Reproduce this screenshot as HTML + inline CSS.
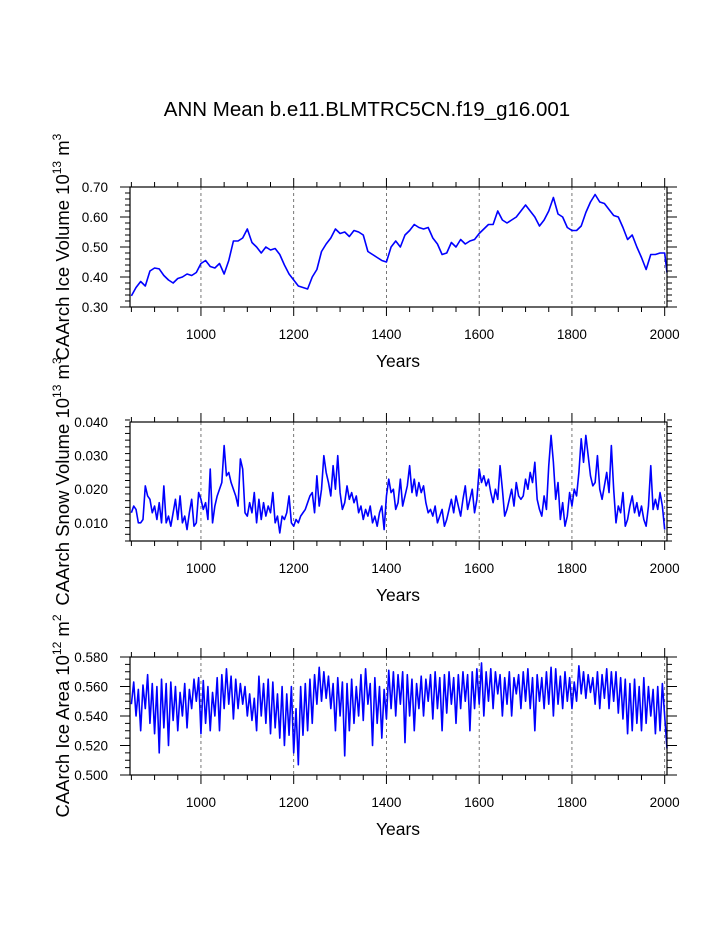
<!DOCTYPE html>
<html><head><meta charset="utf-8"><style>
html,body{margin:0;padding:0;background:#fff}
svg{display:block;font-family:"Liberation Sans",sans-serif}
</style></head><body>
<svg id="chart" width="723" height="935" viewBox="0 0 723 935">
<text x="367" y="116" font-size="20.5" text-anchor="middle">ANN Mean b.e11.BLMTRC5CN.f19_g16.001</text>
</svg>
<script>
const iceVolYears=[850,860,870,880,890,900,910,920,930,940,950,960,970,980,990,1000,1010,1020,1030,1040,1050,1060,1070,1080,1090,1100,1110,1120,1130,1140,1150,1160,1170,1180,1190,1200,1210,1220,1230,1240,1250,1260,1270,1280,1290,1300,1310,1320,1330,1340,1350,1360,1370,1380,1390,1400,1410,1420,1430,1440,1450,1460,1470,1480,1490,1500,1510,1520,1530,1540,1550,1560,1570,1580,1590,1600,1610,1620,1630,1640,1650,1660,1670,1680,1690,1700,1710,1720,1730,1740,1750,1760,1770,1780,1790,1800,1810,1820,1830,1840,1850,1860,1870,1880,1890,1900,1910,1920,1930,1940,1950,1960,1970,1980,1990,2000,2005];
const iceVolume=[0.337,0.365,0.385,0.37,0.42,0.43,0.427,0.405,0.39,0.38,0.395,0.40,0.41,0.405,0.415,0.445,0.455,0.435,0.43,0.445,0.41,0.455,0.52,0.52,0.53,0.56,0.515,0.50,0.48,0.50,0.49,0.495,0.475,0.44,0.41,0.39,0.37,0.365,0.36,0.40,0.425,0.485,0.51,0.53,0.56,0.545,0.55,0.535,0.555,0.55,0.54,0.485,0.475,0.465,0.455,0.45,0.50,0.52,0.50,0.54,0.555,0.575,0.565,0.56,0.565,0.53,0.51,0.475,0.48,0.515,0.50,0.525,0.51,0.52,0.525,0.545,0.56,0.575,0.575,0.62,0.59,0.58,0.59,0.60,0.62,0.64,0.62,0.60,0.57,0.59,0.62,0.665,0.61,0.60,0.565,0.555,0.555,0.57,0.615,0.65,0.675,0.65,0.645,0.625,0.605,0.60,0.565,0.525,0.54,0.50,0.465,0.425,0.475,0.475,0.48,0.48,0.415];
const snowStart=850, snowStep=5;
const snowVolume=[0.013,0.015,0.014,0.010,0.010,0.011,0.021,0.018,0.017,0.013,0.015,0.011,0.016,0.010,0.021,0.010,0.012,0.009,0.013,0.017,0.011,0.018,0.010,0.012,0.008,0.013,0.017,0.009,0.010,0.019,0.017,0.014,0.016,0.011,0.026,0.010,0.015,0.018,0.020,0.022,0.033,0.024,0.025,0.022,0.020,0.018,0.015,0.029,0.026,0.013,0.012,0.016,0.013,0.019,0.010,0.017,0.011,0.016,0.012,0.015,0.013,0.019,0.010,0.012,0.007,0.012,0.011,0.013,0.018,0.010,0.009,0.011,0.010,0.012,0.013,0.014,0.016,0.018,0.019,0.013,0.024,0.015,0.020,0.030,0.025,0.022,0.018,0.027,0.020,0.030,0.019,0.014,0.016,0.021,0.017,0.019,0.016,0.018,0.013,0.015,0.011,0.014,0.012,0.015,0.010,0.012,0.009,0.013,0.015,0.008,0.018,0.023,0.019,0.020,0.014,0.016,0.023,0.015,0.018,0.021,0.027,0.019,0.023,0.018,0.022,0.019,0.021,0.016,0.013,0.014,0.012,0.015,0.010,0.012,0.014,0.009,0.011,0.014,0.017,0.013,0.018,0.015,0.012,0.017,0.021,0.014,0.017,0.020,0.013,0.017,0.026,0.022,0.024,0.021,0.023,0.019,0.016,0.020,0.017,0.027,0.020,0.012,0.014,0.017,0.020,0.015,0.022,0.018,0.017,0.018,0.023,0.020,0.025,0.022,0.028,0.017,0.014,0.012,0.018,0.014,0.027,0.036,0.028,0.017,0.022,0.011,0.016,0.009,0.012,0.019,0.015,0.020,0.018,0.025,0.035,0.028,0.036,0.030,0.024,0.021,0.022,0.030,0.020,0.017,0.021,0.025,0.019,0.033,0.020,0.010,0.015,0.013,0.019,0.009,0.011,0.015,0.018,0.013,0.016,0.012,0.015,0.011,0.009,0.015,0.027,0.014,0.017,0.014,0.019,0.015,0.008];
const areaStart=850, areaStep=5;
const iceArea=[0.548,0.563,0.540,0.558,0.530,0.561,0.545,0.568,0.535,0.562,0.528,0.560,0.515,0.565,0.532,0.562,0.520,0.563,0.537,0.560,0.530,0.556,0.540,0.562,0.532,0.558,0.545,0.565,0.550,0.566,0.528,0.564,0.535,0.560,0.530,0.556,0.540,0.566,0.530,0.568,0.545,0.572,0.548,0.567,0.538,0.565,0.545,0.562,0.548,0.560,0.540,0.555,0.537,0.552,0.530,0.567,0.540,0.562,0.535,0.565,0.528,0.563,0.532,0.555,0.525,0.560,0.520,0.555,0.527,0.560,0.515,0.545,0.507,0.560,0.527,0.562,0.530,0.565,0.535,0.568,0.548,0.573,0.550,0.570,0.552,0.567,0.545,0.562,0.530,0.566,0.540,0.563,0.513,0.562,0.530,0.565,0.535,0.560,0.540,0.568,0.537,0.572,0.548,0.562,0.520,0.566,0.535,0.560,0.525,0.558,0.538,0.571,0.545,0.570,0.540,0.568,0.548,0.570,0.522,0.568,0.540,0.565,0.530,0.562,0.545,0.567,0.540,0.565,0.550,0.568,0.538,0.570,0.545,0.566,0.530,0.568,0.542,0.570,0.548,0.566,0.535,0.568,0.545,0.570,0.550,0.568,0.530,0.570,0.545,0.572,0.548,0.576,0.540,0.570,0.550,0.572,0.545,0.570,0.555,0.568,0.540,0.566,0.548,0.570,0.540,0.566,0.555,0.568,0.545,0.570,0.550,0.572,0.545,0.566,0.530,0.568,0.550,0.566,0.545,0.570,0.548,0.573,0.540,0.572,0.548,0.567,0.545,0.570,0.550,0.566,0.545,0.563,0.550,0.574,0.555,0.570,0.552,0.568,0.556,0.566,0.548,0.570,0.545,0.568,0.552,0.572,0.545,0.570,0.550,0.570,0.542,0.566,0.538,0.565,0.528,0.562,0.530,0.565,0.535,0.560,0.530,0.566,0.535,0.560,0.540,0.558,0.528,0.560,0.530,0.562,0.540,0.518];
const xTickYears=[1000,1200,1400,1600,1800,2000];
const volTicks=[0.30,0.40,0.50,0.60,0.70];
const snowTicks=[0.010,0.020,0.030,0.040];
const areaTicks=[0.500,0.520,0.540,0.560,0.580];

const NS="http://www.w3.org/2000/svg";
const svg=document.getElementById('chart');
const X0=130,X1=667,YR0=847,YR1=2005;
function xs(yr){return X0+(yr-YR0)/(YR1-YR0)*(X1-X0);}
function mk(tag,attrs,parent){const e=document.createElementNS(NS,tag);for(const k in attrs)e.setAttribute(k,attrs[k]);(parent||svg).appendChild(e);return e;}

function panel(cfg){
  const {top,bot,ymin,ymax,ticks,minorStep,dec,xs2,ys2,title,supA,supB,key}=cfg;
  const ysc=v=>bot-(v-ymin)/(ymax-ymin)*(bot-top);
  const g=mk('g',{});
  
  
  xTickYears.forEach(yr=>{
    const l=mk('line',{x1:xs(yr),x2:xs(yr),y1:top,y2:bot,stroke:'#555','stroke-width':0.8,'stroke-dasharray':'3,3'},g);
    
    
  });
  let d='';
  for(let i=0;i<ys2.length;i++){d+=(i?'L':'M')+xs(xs2[i]).toFixed(2)+','+ysc(ys2[i]).toFixed(2);}
  const p=mk('path',{d:d,fill:'none',stroke:'#0000ff','stroke-width':1.6,'stroke-linejoin':'round'},g);
  
  
  const r=mk('rect',{x:X0,y:top,width:X1-X0,height:bot-top,fill:'none',stroke:'#000','stroke-width':1.2},g);
  
  
  for(let yr=850;yr<=2000;yr+=50){
    const major=yr%200===0; const L=major?9:5;
    mk('line',{x1:xs(yr),x2:xs(yr),y1:bot,y2:bot+L,stroke:'#000','stroke-width':1},g);
    mk('line',{x1:xs(yr),x2:xs(yr),y1:top,y2:top-L,stroke:'#000','stroke-width':1},g);
  }
  xTickYears.forEach(yr=>{
    const t=mk('text',{x:xs(yr),y:bot+32,'font-size':13.5,'text-anchor':'middle'},g);
    t.textContent=yr;
    
    
  });
  const xt=mk('text',{x:398,y:bot+60,'font-size':17.5,'text-anchor':'middle'},g);
  xt.textContent='Years';
  
  
  const n=Math.round((ymax-ymin)/minorStep);
  for(let i=0;i<=n;i++){
    const v=ymin+i*minorStep;
    const major=ticks.some(t=>Math.abs(t-v)<minorStep/10);
    const L=major?10:5;const y=ysc(v);
    mk('line',{x1:X0,x2:X0-L,y1:y,y2:y,stroke:'#000','stroke-width':1},g);
    mk('line',{x1:X1,x2:X1+L,y1:y,y2:y,stroke:'#000','stroke-width':1},g);
  }
  ticks.forEach(v=>{
    const t=mk('text',{x:108,y:ysc(v)+5,'font-size':13.5,'text-anchor':'end'},g);
    t.textContent=v.toFixed(dec);
    
    
  });
  const cy=(top+bot)/2;
  const yt=mk('text',{x:0,y:0,'font-size':18.5,'text-anchor':'middle',transform:`translate(69,${cy}) rotate(-90)`},g);
  yt.innerHTML=title+' 10<tspan dy="-8" font-size="12">'+supA+'</tspan><tspan dy="8"> m</tspan><tspan dy="-8" font-size="12">'+supB+'</tspan>';
  
  
}
panel({top:187,bot:307,ymin:0.30,ymax:0.70,ticks:volTicks,minorStep:0.02,dec:2,xs2:iceVolYears,ys2:iceVolume,title:'CAArch Ice Volume',supA:'13',supB:'3',key:'ice-volume'});
const snowYears=snowVolume.map((_,i)=>snowStart+i*snowStep);
panel({top:422,bot:541,ymin:0.0046,ymax:0.040,ticks:snowTicks,minorStep:0.002,dec:3,xs2:snowYears,ys2:snowVolume,title:'CAArch Snow Volume',supA:'13',supB:'3',key:'snow-volume'});
const areaYears=iceArea.map((_,i)=>areaStart+i*areaStep);
panel({top:657,bot:775,ymin:0.500,ymax:0.580,ticks:areaTicks,minorStep:0.005,dec:3,xs2:areaYears,ys2:iceArea,title:'CAArch Ice Area',supA:'12',supB:'2',key:'ice-area'});
</script>
</body></html>
